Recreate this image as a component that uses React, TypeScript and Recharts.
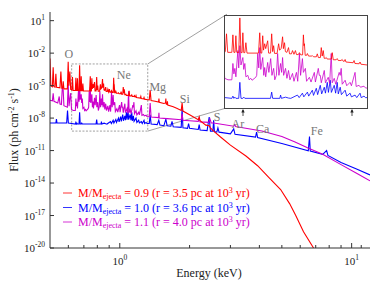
import React from 'react';
import { LineChart, Line, XAxis, YAxis, ReferenceArea, ReferenceLine, ReferenceDot } from 'recharts';

// [energy keV, log10 flux (ph cm^-2 s^-1)]
const red09: [number, number][] = [
  [0.5, -2.5], [0.504, -5.0], [0.512, -5.1], [0.516, -3.3], [0.52, -5.1], [0.526, -5.15], [0.53, -3.9], [0.534, -5.15],
  [0.552, -5.2], [0.557, -3.7], [0.562, -5.25], [0.567, -5.25], [0.57, -4.6], [0.574, -5.3], [0.594, -5.3], [0.599, -2.8],
  [0.603, -5.0], [0.609, -3.7], [0.614, -5.35], [0.621, -5.4], [0.625, -4.2], [0.629, -5.45],
  [0.643, -5.45], [0.6466, -4.27], [0.65, -5.45], [0.654, -5.45], [0.6569, -4.33], [0.66, -5.45], [0.667, -5.47], [0.671, -3.13],
  [0.675, -5.47], [0.679, -5.47], [0.6818, -4.13], [0.685, -5.47], [0.689, -5.47], [0.6928, -4.8], [0.697, -5.5], [0.741, -5.5],
  [0.7459, -4.13], [0.75, -5.5], [0.754, -5.5], [0.7578, -4.33], [0.761, -5.3], [0.7658, -4.87], [0.77, -5.2], [0.7781, -4.67],
  [0.782, -5.5], [0.79, -5.5], [0.7948, -4.2], [0.799, -5.4], [0.8032, -5.0], [0.807, -5.52], [0.818, -5.52], [0.8248, -4.87],
  [0.829, -5.3], [0.836, -5.2], [0.8423, -4.4], [0.846, -5.2], [0.8511, -4.8], [0.855, -5.4], [0.862, -5.45], [0.8694, -5.13],
  [0.874, -5.55], [0.883, -5.55], [0.8881, -5.33], [0.895, -5.58], [0.902, -5.33], [0.907, -5.6], [0.916, -5.6], [0.9213, -5.47],
  [0.928, -5.62], [0.937, -5.62], [0.941, -4.27], [0.944, -5.0], [0.946, -4.87], [0.95, -5.65], [0.957, -5.65], [0.9612, -5.53],
  [0.967, -5.7], [0.983, -5.7], [0.9868, -5.67], [0.993, -5.75], [1.008, -5.75], [1.0132, -5.55], [1.019, -5.8], [1.03, -5.8],
  [1.0349, -5.13], [1.04, -5.7], [1.0459, -5.33], [1.051, -5.85], [1.058, -5.85], [1.0627, -5.8], [1.068, -5.9], [1.092, -5.9],
  [1.097, -5.47], [1.103, -5.95], [1.12, -5.95], [1.1264, -5.87], [1.133, -6.0], [1.15, -6.0], [1.1567, -5.93], [1.163, -6.05],
  [1.17, -6.05], [1.1749, -5.93], [1.18, -6.1], [1.226, -6.15], [1.2322, -6.0], [1.238, -6.2], [1.266, -6.22], [1.272, -6.1],
  [1.278, -6.25], [1.32, -6.3], [1.34, -6.32], [1.352, -5.4], [1.364, -6.38], [1.42, -6.45], [1.47, -6.52], [1.475, -6.2],
  [1.48, -6.55], [1.55, -6.65], [1.575, -6.6], [1.58, -6.2], [1.585, -6.7], [1.6, -6.75], [1.605, -6.45], [1.61, -6.8],
  [1.7, -6.95], [1.76, -7.1], [1.84, -7.3], [1.857, -6.6], [1.872, -7.35], [2.0, -7.7], [2.18, -8.15], [2.2, -7.9],
  [2.22, -8.25], [2.35, -8.65], [2.43, -8.7], [2.46, -8.9], [2.54, -9.2], [2.72, -9.75], [3.0, -10.5], [3.5, -11.5],
  [3.93, -12.4], [4.4, -13.5], [4.94, -14.6], [5.4, -15.9], [5.74, -17.0], [6.2, -18.5], [6.85, -20.0],
];

const blue10: [number, number][] = [
  [0.5, -8.45], [0.53, -8.45], [0.533, -8.1], [0.536, -8.45], [0.59, -8.45], [0.595, -7.3], [0.6, -8.45], [0.62, -8.5],
  [0.643, -8.55], [0.6466, -8.4], [0.65, -8.55], [0.6535, -8.47], [0.657, -8.55], [0.667, -8.55], [0.671, -7.47], [0.675, -8.55],
  [0.6818, -8.55], [0.6855, -8.47], [0.689, -8.55], [0.79, -8.55], [0.7948, -8.13], [0.799, -8.55], [0.83, -8.55], [0.8334, -8.33],
  [0.837, -8.55], [0.8557, -8.47], [0.8694, -8.53], [0.88, -8.55], [0.9117, -8.33], [0.92, -8.5], [0.9361, -8.2], [0.943, -8.45],
  [0.9612, -8.13], [0.968, -8.4], [0.9868, -8.0], [0.993, -8.35], [1.0079, -7.87], [1.015, -8.3], [1.0294, -7.67], [1.037, -8.25],
  [1.0515, -7.8], [1.058, -8.2], [1.0683, -7.47], [1.075, -8.15], [1.0854, -7.33], [1.092, -8.15], [1.1087, -7.67], [1.117, -8.2],
  [1.1264, -7.47], [1.133, -8.25], [1.1445, -7.8], [1.152, -8.3], [1.1749, -8.0], [1.185, -8.4], [1.2063, -8.2], [1.215, -8.45],
  [1.2387, -8.33], [1.25, -8.5], [1.272, -8.2], [1.28, -8.5], [1.299, -8.4], [1.31, -8.5], [1.34, -8.5], [1.352, -7.7],
  [1.365, -8.55], [1.45, -8.6], [1.473, -8.2], [1.49, -8.65], [1.55, -8.7], [1.58, -8.1], [1.6, -8.7], [1.66, -8.75],
  [1.68, -8.3], [1.7, -8.8], [1.84, -8.85], [1.857, -7.1], [1.872, -8.9], [1.96, -8.95], [1.98, -8.5], [2.0, -8.95],
  [2.18, -9.05], [2.2, -8.6], [2.22, -9.1], [2.38, -9.15], [2.43, -7.9], [2.46, -9.2], [2.52, -9.2], [2.54, -8.2],
  [2.56, -9.25], [2.62, -9.3], [2.65, -8.9], [2.68, -9.3], [3.0, -9.45], [3.1, -9.0], [3.14, -9.5], [3.85, -9.75],
  [3.89, -9.3], [3.93, -9.8], [5.0, -10.35], [6.5, -11.02], [6.58, -9.7], [6.63, -11.05], [7.5, -11.35], [7.8, -11.0],
  [7.9, -11.45], [9.0, -12.1], [10.5, -12.7], [12, -13.25],
];

const magenta11: [number, number][] = [
  [0.5, -6.35], [0.512, -6.4], [0.516, -5.7], [0.52, -6.45], [0.54, -6.6], [0.548, -6.0], [0.552, -6.7], [0.56, -6.75],
  [0.565, -5.2], [0.57, -5.4], [0.574, -6.85], [0.594, -7.0], [0.599, -4.8], [0.604, -6.9], [0.609, -6.2], [0.614, -5.7],
  [0.619, -7.2], [0.63, -7.3], [0.643, -7.3], [0.6466, -6.2], [0.65, -6.9], [0.6535, -6.53], [0.657, -7.1], [0.6639, -5.33],
  [0.667, -6.5], [0.671, -5.0], [0.675, -6.3], [0.6818, -5.8], [0.685, -6.6], [0.6891, -6.2], [0.693, -7.1], [0.7002, -7.0],
  [0.705, -7.3], [0.7112, -7.2], [0.716, -7.33], [0.7303, -7.13], [0.734, -7.0], [0.738, -5.53], [0.742, -6.5], [0.7459, -5.13],
  [0.75, -6.6], [0.7578, -5.8], [0.762, -7.0], [0.7658, -6.47], [0.77, -7.1], [0.7781, -6.13], [0.783, -6.8], [0.7906, -5.87],
  [0.796, -7.0], [0.8032, -6.53], [0.808, -7.3], [0.815, -7.0], [0.8204, -5.53], [0.826, -7.0], [0.8334, -6.2], [0.838, -6.8],
  [0.8423, -5.8], [0.847, -7.0], [0.8557, -6.53], [0.862, -7.2], [0.8694, -6.67], [0.876, -7.3], [0.8881, -6.87], [0.895, -7.4],
  [0.9068, -6.8], [0.913, -7.4], [0.9213, -5.53], [0.927, -7.0], [0.9361, -5.87], [0.941, -6.8], [0.951, -6.53], [0.957, -7.4],
  [0.9714, -7.13], [0.98, -7.45], [0.9973, -6.8], [1.003, -7.45], [1.0186, -6.53], [1.024, -7.0], [1.0294, -7.0], [1.035, -7.5],
  [1.0515, -6.67], [1.058, -7.5], [1.074, -7.13], [1.082, -7.55], [1.0912, -5.53], [1.097, -7.5], [1.1087, -7.2], [1.118, -7.6],
  [1.1384, -6.8], [1.1445, -7.0], [1.1506, -6.53], [1.157, -7.6], [1.1749, -7.33], [1.185, -7.7], [1.2063, -7.47], [1.215, -7.7],
  [1.2387, -6.8], [1.246, -7.75], [1.2653, -7.67], [1.275, -7.8], [1.299, -7.73], [1.31, -7.85], [1.34, -7.87], [1.352, -6.6],
  [1.365, -7.9], [1.47, -7.95], [1.475, -7.5], [1.48, -8.0], [1.6, -8.05], [1.84, -8.15], [1.857, -7.6], [1.872, -8.2],
  [2.0, -8.25], [2.18, -8.3], [2.2, -8.0], [2.22, -8.35], [2.42, -8.4], [2.45, -8.1], [2.48, -8.45], [2.54, -8.45],
  [3.1, -8.75], [3.13, -8.6], [3.16, -8.78], [3.2, -8.8], [4.1, -9.2], [5.0, -9.7], [5.7, -10.2], [6.45, -10.75],
  [7.5, -11.35], [9.0, -12.3], [10.5, -13.1], [12, -13.8],
];

const energyTicks = [0.6, 0.7, 0.8, 0.9, 1, 2, 3, 4, 5, 6, 7, 8, 9, 10, 11];
const fluxTicks = [-20, -17, -14, -11, -8, -5, -2, 1];
const insetEnergyTicks = [0.7, 0.8, 0.9, 1.0, 1.1, 1.2];
const insetFluxTicks = [-9, -8, -7, -6, -5, -4];

const elements = [
  { name: 'O', e: 0.603, f: -2.1 },
  { name: 'Ne', e: 1.04, f: -4.0 },
  { name: 'Mg', e: 1.458, f: -5.1 },
  { name: 'Si', e: 1.906, f: -6.25 },
  { name: 'S', e: 2.63, f: -7.9 },
  { name: 'Ar', e: 3.23, f: -8.55 },
  { name: 'Ca', e: 4.13, f: -8.95 },
  { name: 'Fe', e: 7.07, f: -9.2 },
];

const models = [
  { mass: '0.9', radius: '3.5' },
  { mass: '1.0', radius: '3.6' },
  { mass: '1.1', radius: '4.0' },
];

const RED = '#ff0000';
const BLUE = '#0000ff';
const MAGENTA = '#cc00cc';
const colors = [RED, BLUE, MAGENTA];
const FONT = "'Liberation Serif', 'Times New Roman', serif";

const pts = (arr: [number, number][]) => arr.map(([e, f]) => ({ e, f }));

const EnergyTick = (props: any) => {
  const { x, y, payload } = props;
  const v = payload.value;
  const major = v === 1 || v === 10;
  return (
    <g>
      <line x1={x} x2={x} y1={y} y2={y - (major ? 5 : 3)} stroke="#333" />
      {major && (
        <text x={x} y={y + 17} textAnchor="middle" fontSize={11} fill="#222">
          10<tspan dy={-5} fontSize={7.5}>{v === 1 ? '0' : '1'}</tspan>
        </text>
      )}
    </g>
  );
};

const FluxTick = (props: any) => {
  const { x, y, payload } = props;
  return (
    <g>
      <line x1={x} x2={x + 4} y1={y} y2={y} stroke="#333" />
      <text x={x - 5} y={y + 4} textAnchor="end" fontSize={11} fill="#222">
        10<tspan dy={-5} fontSize={7.5}>{String(payload.value).replace('-', '-')}</tspan>
      </text>
    </g>
  );
};

const InsetXTick = (props: any) => (
  <line x1={props.x} x2={props.x} y1={props.y} y2={props.y - 3} stroke="#444" />
);
const InsetYTick = (props: any) => (
  <line x1={props.x} x2={props.x + 3} y1={props.y} y2={props.y} stroke="#444" />
);

export default function App() {
  return (
    <div style={{ position: 'absolute', left: 0, top: 0, width: 382, height: 284, fontFamily: FONT, background: '#fff' }}>
      <LineChart width={382} height={284} margin={{ top: 12, right: 12, bottom: 0, left: 0 }}>
        <XAxis type="number" dataKey="e" scale="log" domain={[0.5, 12]} allowDataOverflow ticks={energyTicks}
          interval={0} tickSize={0} tickMargin={0} height={36} axisLine={{ stroke: '#333' }} tick={<EnergyTick />} />
        <XAxis xAxisId="top" orientation="top" type="number" scale="log" domain={[0.5, 12]} height={0}
          tick={false} tickLine={false} axisLine={{ stroke: '#333' }} />
        <YAxis type="number" dataKey="f" domain={[-20, 1.8]} allowDataOverflow ticks={fluxTicks} interval={0}
          tickSize={0} tickMargin={0} width={50} axisLine={{ stroke: '#333' }} tick={<FluxTick />} />
        <YAxis yAxisId="right" orientation="right" type="number" domain={[-20, 1.8]} width={0}
          tick={false} tickLine={false} axisLine={{ stroke: '#333' }} />
        <ReferenceArea x1={0.62} x2={1.32} y1={-9.2} y2={-3} fill="none" stroke="#888" strokeDasharray="2 1.5" strokeWidth={0.8} />
        <ReferenceLine segment={[{ x: 1.32, y: -3 }, { x: 2.9, y: 1.6 }]} stroke="#888" strokeWidth={0.8} />
        <ReferenceLine segment={[{ x: 1.32, y: -9.2 }, { x: 2.9, y: -7.05 }]} stroke="#888" strokeWidth={0.8} />
        <Line data={pts(blue10)} dataKey="f" stroke={BLUE} strokeWidth={1.1} dot={false} isAnimationActive={false} />
        <Line data={pts(magenta11)} dataKey="f" stroke={MAGENTA} strokeWidth={1.1} dot={false} isAnimationActive={false} />
        <Line data={pts(red09)} dataKey="f" stroke={RED} strokeWidth={1.1} dot={false} isAnimationActive={false} />
        {elements.map((el) => (
          <ReferenceDot key={el.name} x={el.e} y={el.f} r={0.01} fill="none" stroke="none"
            label={{ value: el.name, position: 'center', fill: '#777', fontSize: 12 }} />
        ))}
      </LineChart>

      <div style={{ position: 'absolute', left: 224, top: 15, width: 142, height: 92, border: '1px solid #444', background: '#fff', overflow: 'hidden' }}>
        <LineChart width={142} height={92} margin={{ top: 0, right: 0, bottom: 0, left: 0 }}>
          <XAxis type="number" dataKey="e" scale="log" domain={[0.62, 1.32]} allowDataOverflow ticks={insetEnergyTicks}
            interval={0} height={0} tickSize={0} tickMargin={0} axisLine={false} tick={<InsetXTick />} />
          <YAxis type="number" dataKey="f" domain={[-9.2, -3]} allowDataOverflow ticks={insetFluxTicks} interval={0}
            width={0} tickSize={0} tickMargin={0} axisLine={false} tick={<InsetYTick />} />
          <Line data={pts(blue10)} dataKey="f" stroke={BLUE} strokeWidth={0.8} dot={false} isAnimationActive={false} />
          <Line data={pts(magenta11)} dataKey="f" stroke={MAGENTA} strokeWidth={0.8} dot={false} isAnimationActive={false} />
          <Line data={pts(red09)} dataKey="f" stroke={RED} strokeWidth={0.8} dot={false} isAnimationActive={false} />
        </LineChart>
      </div>

      <svg width={382} height={284} style={{ position: 'absolute', left: 0, top: 0, pointerEvents: 'none' }}>
        <g stroke="#222" fill="#222">
          <line x1={243} x2={243} y1={110} y2={116} strokeWidth={0.8} />
          <path d="M241.3 112.5 L243 109 L244.7 112.5 Z" stroke="none" />
          <line x1={352} x2={352} y1={110} y2={116} strokeWidth={0.8} />
          <path d="M350.3 112.5 L352 109 L353.7 112.5 Z" stroke="none" />
        </g>
        <text transform="translate(18,130) rotate(-90)" textAnchor="middle" fontSize={12} fill="#222">
          Flux (ph cm<tspan dy={-4} fontSize={8}>-2</tspan><tspan dy={4}> s</tspan>
          <tspan dy={-4} fontSize={8}>-1</tspan><tspan dy={4}>)</tspan>
        </text>
        <text x={209} y={277} textAnchor="middle" fontSize={12} fill="#222">Energy (keV)</text>
        {models.map((m, i) => {
          const y = 193 + i * 14.5;
          return (
            <g key={m.mass}>
              <line x1={63} x2={72} y1={y} y2={y} stroke={colors[i]} strokeWidth={0.8} />
              <text x={78} y={y + 4} fontSize={12} fill={colors[i]}>
                M/M<tspan fontSize={8} dy={2}>ejecta</tspan>
                <tspan dy={-2}>{` = ${m.mass} (r = ${m.radius} pc at 10`}</tspan>
                <tspan fontSize={8} dy={-4}>3</tspan>
                <tspan dy={4}> yr)</tspan>
              </text>
            </g>
          );
        })}
      </svg>
    </div>
  );
}
